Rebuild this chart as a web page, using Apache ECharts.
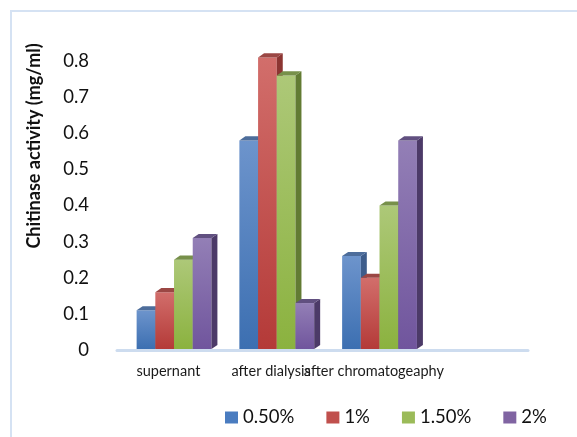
<!DOCTYPE html>
<html>
<head>
<meta charset="utf-8">
<script src="https://cdn.jsdelivr.net/npm/echarts@6/dist/echarts.min.js"></script>
<style>html,body{margin:0;padding:0;background:#fff;}#c{width:577px;height:437px;}</style>
</head>
<body>
<div id="c"></div>
<script>
var categories = ['supernant', 'after dialysis', 'after chromatogeaphy', ''];
var seriesNames = ['0.50%', '1%', '1.50%', '2%'];
var s050 = [0.11, 0.58, 0.26];
var s1 = [0.16, 0.81, 0.20];
var s150 = [0.25, 0.76, 0.40];
var s2 = [0.31, 0.13, 0.58];
var yTitle = 'Chitinase activity (mg/ml)';

var palette = [
  {front: ['#6d94cc', '#3c6fb1'], side: '#3e5d8b', top: '#4d6d9b', icon: '#4a7cc0'},
  {front: ['#d26e6b', '#b43a38'], side: '#8c3532', top: '#9b4744', icon: '#c0504d'},
  {front: ['#adc878', '#8bb23f'], side: '#627b33', top: '#77904a', icon: '#9bbb59'},
  {front: ['#937fb6', '#70559d'], side: '#4c3a68', top: '#615080', icon: '#8064a2'}
];

function makeRender(si) {
  return function (params, api) {
    var cat = api.value(0), val = api.value(1);
    var base = api.coord([cat, 0]);
    var topP = api.coord([cat, val]);
    var band = api.size([1, 0])[0];
    var w = band * 0.182;
    var x0 = base[0] + band * 0.055 - 2 * w + si * w;
    var dx = w * 0.32, dy = w * 0.22;
    var yb = base[1] - 1, yt = topP[1];
    var p = palette[si];
    return {
      type: 'group',
      children: [
        {type: 'rect', shape: {x: x0, y: yt, width: w, height: yb - yt},
          style: {fill: new echarts.graphic.LinearGradient(0, 0, 0, 1, [{offset: 0, color: p.front[0]}, {offset: 1, color: p.front[1]}])}},
        {type: 'polygon', shape: {points: [[x0 + w, yt], [x0 + w + dx, yt - dy], [x0 + w + dx, yb - dy], [x0 + w, yb]]},
          style: {fill: p.side}},
        {type: 'polygon', shape: {points: [[x0, yt], [x0 + dx, yt - dy], [x0 + w + dx, yt - dy], [x0 + w, yt]]},
          style: {fill: p.top}}
      ]
    };
  };
}

var allData = [s050, s1, s150, s2];
var series = allData.map(function (arr, si) {
  return {
    name: seriesNames[si],
    type: 'custom',
    renderItem: makeRender(si),
    itemStyle: {color: palette[si].icon},
    encode: {x: 0, y: 1},
    data: arr.map(function (v, i) { return [i, v]; }),
    z: 2 + si
  };
});

var chart = echarts.init(document.getElementById('c'), null, {renderer: 'canvas'});
chart.setOption({
  animation: false,
  backgroundColor: '#ffffff',
  grid: {left: 117, right: 49, top: 61, bottom: 87, containLabel: false},
  xAxis: {
    type: 'category',
    data: categories,
    boundaryGap: true,
    axisLine: {show: true, lineStyle: {color: '#cddcef', width: 3}},
    axisTick: {show: false},
    axisLabel: {interval: 0, hideOverlap: false, margin: 14, color: '#1a1a1a', fontFamily: 'Lato', fontSize: 14.5}
  },
  yAxis: {
    type: 'value',
    min: 0, max: 0.8, interval: 0.1,
    splitLine: {show: false},
    axisLine: {show: false},
    axisTick: {show: false},
    axisLabel: {margin: 28, color: '#111', fontFamily: 'Lato', fontSize: 18.5,
      formatter: function (v) { return v === 0 ? '0' : v.toFixed(1); }}
  },
  legend: {
    data: seriesNames,
    left: 225, top: 408, padding: 0,
    icon: 'rect', itemWidth: 13, itemHeight: 12, itemGap: 32,
    textStyle: {fontFamily: 'Lato', fontSize: 18.5, color: '#111'}
  },
  graphic: [
    {type: 'rect', shape: {x: 11, y: 11, width: 620, height: 500}, style: {fill: 'none', stroke: '#d5e2f3', lineWidth: 2}, z: 0},
    {type: 'text', x: 34, y: 146, rotation: Math.PI / 2,
      style: {text: yTitle, fontFamily: 'Lato', fontWeight: 'bold', fontSize: 18, fill: '#111', align: 'center', verticalAlign: 'middle'}}
  ],
  series: series
});
</script>
</body>
</html>
